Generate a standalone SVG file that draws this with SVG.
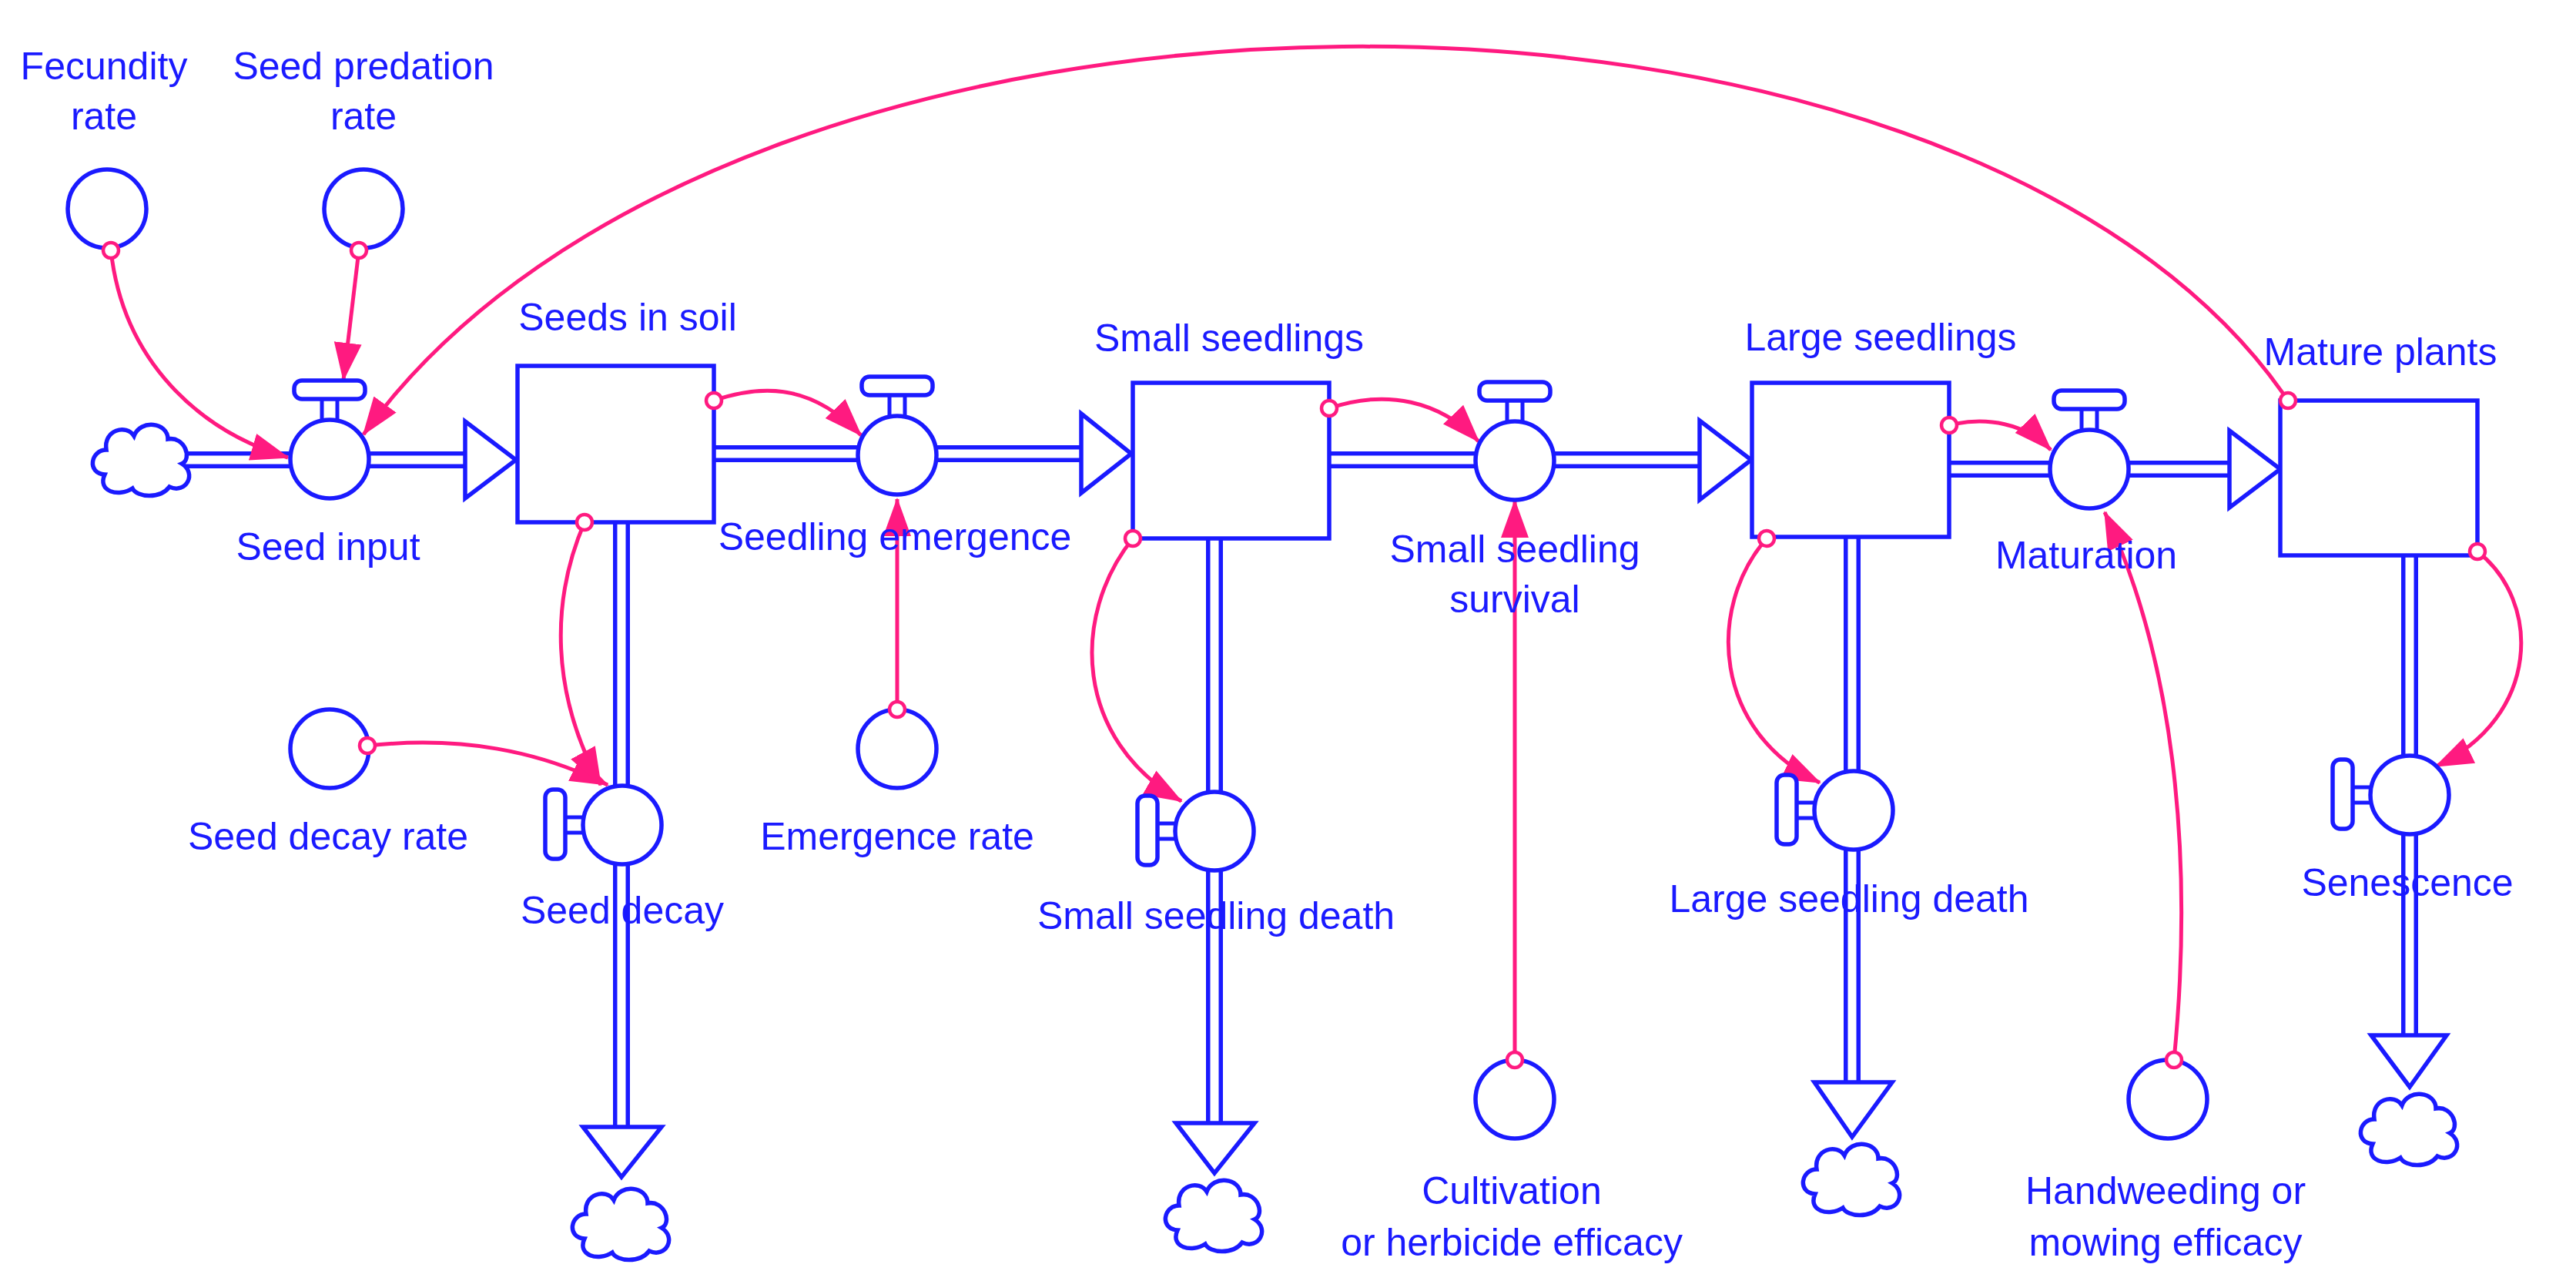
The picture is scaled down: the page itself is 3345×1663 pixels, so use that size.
<svg xmlns="http://www.w3.org/2000/svg" width="3345" height="1663" viewBox="0 0 3345 1663">
<style>
text{font-family:"Liberation Sans",Arial,sans-serif;font-size:50px;fill:#1a1aff;text-anchor:middle}
.pipeo{fill:none;stroke:#1a1aff;stroke-width:22}
.pipei{fill:none;stroke:#fff;stroke-width:11}
.head{fill:#fff;stroke:#1a1aff;stroke-width:5.5;stroke-linejoin:miter}
.stock{fill:#fff;stroke:#1a1aff;stroke-width:5.5}
.cv{fill:#fff;stroke:#1a1aff;stroke-width:5.5}
.link{fill:none;stroke:#ff1a80;stroke-width:5;marker-end:url(#ah)}
.dot{fill:#fff;stroke:#ff1a80;stroke-width:4.5}
</style>
<defs>
<marker id="ah" markerUnits="userSpaceOnUse" markerWidth="50" markerHeight="40" viewBox="0 0 50 40" refX="48" refY="20" orient="auto"><path d="M0,2 L50,20 L0,38 Z" fill="#ff1a80"/></marker>
<g id="cloud"><path d="M-48,20 C-72,18 -66,-12 -46,-12 C-50,-38 -20,-46 -10,-30 C-2,-52 34,-48 34,-26 C56,-30 66,0 52,6 C72,18 58,46 36,36 C24,52 -6,50 -12,38 C-30,50 -58,42 -48,20 Z" fill="#fff" stroke="#1a1aff" stroke-width="5.5"/></g>
<g id="vh"><rect x="-46" y="-102" width="92" height="24" rx="10" class="cv"/><path d="M-10,-78 V-51 M10,-78 V-51" stroke="#1a1aff" stroke-width="5"/><circle r="51" class="cv"/></g>
<g id="vv"><rect x="-100" y="-46" width="26" height="90" rx="10" class="cv"/><path d="M-74,-10 H-51 M-74,10 H-51" stroke="#1a1aff" stroke-width="5"/><circle r="51" class="cv"/></g>
</defs>
<g id="connectors">
<path class="pipeo" d="M230,597 H604 M927,589 H1404 M1726,597 H2207 M2531,609 H2895 M807,678 V1463 M1577,699 V1458 M2405,697 V1405 M3129,721 V1344"/>
<path class="pipei" d="M226,597 H608 M923,589 H1408 M1722,597 H2211 M2527,609 H2899 M807,674 V1467 M1577,695 V1462 M2405,693 V1409 M3129,717 V1348"/>
<path class="head" d="M604,547 L670,597 L604,647 Z M1404,537 L1469,589 L1404,640 Z M2207,546 L2274,597 L2207,649 Z M2895,559 L2961,609 L2895,659 Z M757,1463 L807,1528 L859,1463 Z M1527,1458 L1577,1523 L1629,1458 Z M2356,1405 L2405,1476 L2457,1405 Z M3079,1344 L3129,1411 L3177,1344 Z"/>
<path class="link" d="M144,325 C160,470 260,560 374,594"/>
<path class="link" d="M466,325 L446,493"/>
<path class="link" d="M2971,520 C2550,-100 950,-100 472,564"/>
<path class="link" d="M927,520 C1000,495 1060,505 1118,565"/>
<path class="link" d="M1165,921 V648"/>
<path class="link" d="M477,968 C600,955 700,975 789,1019"/>
<path class="link" d="M759,678 C715,780 715,900 780,1019"/>
<path class="link" d="M1471,699 C1390,800 1395,960 1534,1040"/>
<path class="link" d="M1726,530 C1800,505 1870,520 1920,573"/>
<path class="link" d="M1967,1376 V650"/>
<path class="link" d="M2294,699 C2215,790 2225,950 2363,1016"/>
<path class="link" d="M2531,552 C2580,540 2630,550 2663,584"/>
<path class="link" d="M2823,1376 C2850,1100 2820,850 2733,665"/>
<path class="link" d="M3217,716 C3300,780 3300,930 3163,995"/>
</g>
<g id="cloud-src"><use href="#cloud" x="184" y="596"/></g>
<g id="cloud-sinks"><use href="#cloud" x="807" y="1588"/><use href="#cloud" x="1577" y="1577"/><use href="#cloud" x="2405" y="1530"/><use href="#cloud" x="3129" y="1465"/></g>
<g id="fecundity"><circle class="cv" cx="139" cy="271" r="51"/><text x="135" y="103">Fecundity</text><text x="135" y="168">rate</text></g>
<g id="predation"><circle class="cv" cx="472" cy="271" r="51"/><text x="472" y="103">Seed predation</text><text x="472" y="168">rate</text></g>
<g id="seed-input"><use href="#vh" x="428" y="596"/><text x="426" y="727">Seed input</text></g>
<g id="seeds-in-soil"><rect class="stock" x="672" y="475" width="255" height="203"/><text x="815" y="429">Seeds in soil</text></g>
<g id="emergence"><use href="#vh" x="1165" y="591"/><text x="1162" y="714">Seedling emergence</text></g>
<g id="emergence-rate"><circle class="cv" cx="1165" cy="972" r="51"/><text x="1165" y="1103">Emergence rate</text></g>
<g id="seed-decay"><use href="#vv" x="808" y="1071"/><text x="808" y="1199">Seed decay</text></g>
<g id="seed-decay-rate"><circle class="cv" cx="428" cy="972" r="51"/><text x="426" y="1103">Seed decay rate</text></g>
<g id="small-seedlings"><rect class="stock" x="1471" y="497" width="255" height="202"/><text x="1596" y="456">Small seedlings</text></g>
<g id="small-death"><use href="#vv" x="1577" y="1079"/><text x="1579" y="1206">Small seedling death</text></g>
<g id="survival"><use href="#vh" x="1967" y="598"/><text x="1967" y="730">Small seedling</text><text x="1967" y="795">survival</text></g>
<g id="cultivation"><circle class="cv" cx="1967" cy="1427" r="51"/><text x="1963" y="1563">Cultivation</text><text x="1963" y="1630">or herbicide efficacy</text></g>
<g id="large-seedlings"><rect class="stock" x="2275" y="497" width="256" height="200"/><text x="2442" y="455">Large seedlings</text></g>
<g id="large-death"><use href="#vv" x="2407" y="1052"/><text x="2401" y="1184">Large seedling death</text></g>
<g id="maturation"><use href="#vh" x="2713" y="609"/><text x="2709" y="738">Maturation</text></g>
<g id="handweeding"><circle class="cv" cx="2815" cy="1427" r="51"/><text x="2812" y="1563">Handweeding or</text><text x="2812" y="1630">mowing efficacy</text></g>
<g id="mature-plants"><rect class="stock" x="2961" y="520" width="256" height="201"/><text x="3091" y="474">Mature plants</text></g>
<g id="senescence"><use href="#vv" x="3129" y="1032"/><text x="3126" y="1163">Senescence</text></g>
<g id="link-origins">
<circle class="dot" cx="144" cy="325" r="10"/><circle class="dot" cx="466" cy="325" r="10"/>
<circle class="dot" cx="2971" cy="520" r="10"/><circle class="dot" cx="927" cy="520" r="10"/>
<circle class="dot" cx="1165" cy="921" r="10"/><circle class="dot" cx="477" cy="968" r="10"/>
<circle class="dot" cx="759" cy="678" r="10"/><circle class="dot" cx="1471" cy="699" r="10"/>
<circle class="dot" cx="1726" cy="530" r="10"/><circle class="dot" cx="1967" cy="1376" r="10"/>
<circle class="dot" cx="2294" cy="699" r="10"/><circle class="dot" cx="2531" cy="552" r="10"/>
<circle class="dot" cx="2823" cy="1376" r="10"/><circle class="dot" cx="3217" cy="716" r="10"/>
</g>
</svg>
